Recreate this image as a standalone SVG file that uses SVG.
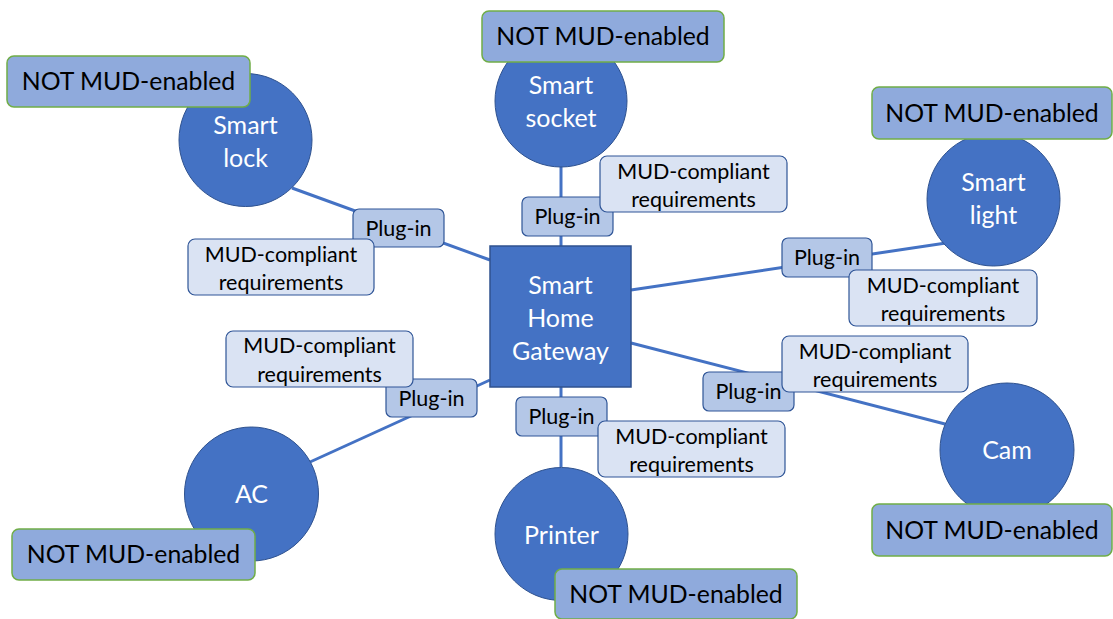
<svg xmlns="http://www.w3.org/2000/svg" width="1113" height="619" viewBox="0 0 1113 619">
<style>
.dev{fill:#4472C4;stroke:#2F528F;stroke-width:1}
.gw{fill:#4472C4;stroke:#2F528F;stroke-width:1.5}
.not{fill:#8FAADC;stroke:#70AD47;stroke-width:1.5}
.plug{fill:#B4C7E7;stroke:#2F5597;stroke-width:1.2}
.mud{fill:#DAE3F3;stroke:#2F5597;stroke-width:1.2}
.wt{font-family:Lato,"Open Sans",sans-serif;font-size:25px;fill:#fff;text-anchor:middle}
.bt{font-family:Lato,"Open Sans",sans-serif;font-size:24.8px;fill:#000;text-anchor:middle}
.st{font-family:Lato,"Open Sans",sans-serif;font-size:21.5px;fill:#000;text-anchor:middle}
.ln{stroke:#4472C4;stroke-width:3;fill:none}
</style>
<rect width="1113" height="619" fill="#fff"/>
<g id="connectors">
<line class="ln" x1="292" y1="188" x2="490" y2="260"/>
<line class="ln" x1="561" y1="167" x2="561" y2="246"/>
<line class="ln" x1="631" y1="290" x2="946" y2="243"/>
<line class="ln" x1="310" y1="462" x2="490" y2="380"/>
<line class="ln" x1="561" y1="387" x2="561" y2="467"/>
<line class="ln" x1="631" y1="343" x2="945" y2="424"/>
</g>
<g id="gateway">
<rect class="gw" x="490" y="246" width="141" height="141"/>
<text class="wt" x="560.5" y="294">Smart</text>
<text class="wt" x="560.5" y="327">Home</text>
<text class="wt" x="560.5" y="360">Gateway</text>
</g>
<g id="smart-lock">
<circle class="dev" cx="245.5" cy="140" r="66.5"/>
<text class="wt" x="245.5" y="134">Smart</text>
<text class="wt" x="245.5" y="167">lock</text>
<rect class="not" x="7" y="56" width="243" height="51" rx="7"/>
<text class="bt" x="128.5" y="90">NOT MUD-enabled</text>
</g>
<g id="smart-socket">
<circle class="dev" cx="561" cy="101" r="66"/>
<text class="wt" x="561" y="94">Smart</text>
<text class="wt" x="561" y="127">socket</text>
<rect class="not" x="482" y="11" width="242" height="51" rx="7"/>
<text class="bt" x="603" y="45">NOT MUD-enabled</text>
</g>
<g id="smart-light">
<circle class="dev" cx="993.5" cy="199.5" r="66.5"/>
<text class="wt" x="993.5" y="191">Smart</text>
<text class="wt" x="993.5" y="224">light</text>
<rect class="not" x="872" y="87" width="240" height="52" rx="7"/>
<text class="bt" x="992" y="122">NOT MUD-enabled</text>
</g>
<g id="ac">
<circle class="dev" cx="251.5" cy="494" r="67"/>
<text class="wt" x="251.5" y="503">AC</text>
<rect class="not" x="12" y="529" width="243" height="51" rx="7"/>
<text class="bt" x="133.5" y="563">NOT MUD-enabled</text>
</g>
<g id="printer">
<circle class="dev" cx="561.5" cy="534" r="66.5"/>
<text class="wt" x="561.5" y="544">Printer</text>
<rect class="not" x="555" y="569" width="242" height="50" rx="7"/>
<text class="bt" x="676" y="603">NOT MUD-enabled</text>
</g>
<g id="cam">
<circle class="dev" cx="1007" cy="450" r="67"/>
<text class="wt" x="1007" y="459">Cam</text>
<rect class="not" x="872" y="504" width="240" height="52" rx="7"/>
<text class="bt" x="992" y="539">NOT MUD-enabled</text>
</g>
<g id="plugin-lock">
<rect class="plug" x="353" y="209" width="91" height="38" rx="6"/>
<text class="st" x="398.5" y="236">Plug-in</text>
</g>
<g id="mud-lock">
<rect class="mud" x="188" y="239" width="186" height="56" rx="7"/>
<text class="st" x="281" y="262">MUD-compliant</text>
<text class="st" x="281" y="290">requirements</text>
</g>
<g id="plugin-socket">
<rect class="plug" x="522" y="197" width="91" height="39" rx="6"/>
<text class="st" x="567.5" y="224">Plug-in</text>
</g>
<g id="mud-socket">
<rect class="mud" x="600" y="156" width="187" height="56" rx="7"/>
<text class="st" x="693.5" y="179">MUD-compliant</text>
<text class="st" x="693.5" y="207">requirements</text>
</g>
<g id="plugin-light">
<rect class="plug" x="782" y="238" width="90" height="39" rx="6"/>
<text class="st" x="827" y="265">Plug-in</text>
</g>
<g id="mud-light">
<rect class="mud" x="849" y="270" width="188" height="56" rx="7"/>
<text class="st" x="943" y="293">MUD-compliant</text>
<text class="st" x="943" y="321">requirements</text>
</g>
<g id="plugin-ac">
<rect class="plug" x="386" y="379" width="91" height="38" rx="6"/>
<text class="st" x="431.5" y="406">Plug-in</text>
</g>
<g id="mud-ac">
<rect class="mud" x="226" y="331" width="187" height="56" rx="7"/>
<text class="st" x="319.5" y="353">MUD-compliant</text>
<text class="st" x="319.5" y="382">requirements</text>
</g>
<g id="plugin-printer">
<rect class="plug" x="516" y="397" width="91" height="39" rx="6"/>
<text class="st" x="561.5" y="424">Plug-in</text>
</g>
<g id="mud-printer">
<rect class="mud" x="598" y="421" width="187" height="56" rx="7"/>
<text class="st" x="691.5" y="444">MUD-compliant</text>
<text class="st" x="691.5" y="472">requirements</text>
</g>
<g id="plugin-cam">
<rect class="plug" x="703" y="372" width="91" height="39" rx="6"/>
<text class="st" x="748.5" y="399">Plug-in</text>
</g>
<g id="mud-cam">
<rect class="mud" x="782" y="336" width="186" height="56" rx="7"/>
<text class="st" x="875" y="359">MUD-compliant</text>
<text class="st" x="875" y="387">requirements</text>
</g>
</svg>
